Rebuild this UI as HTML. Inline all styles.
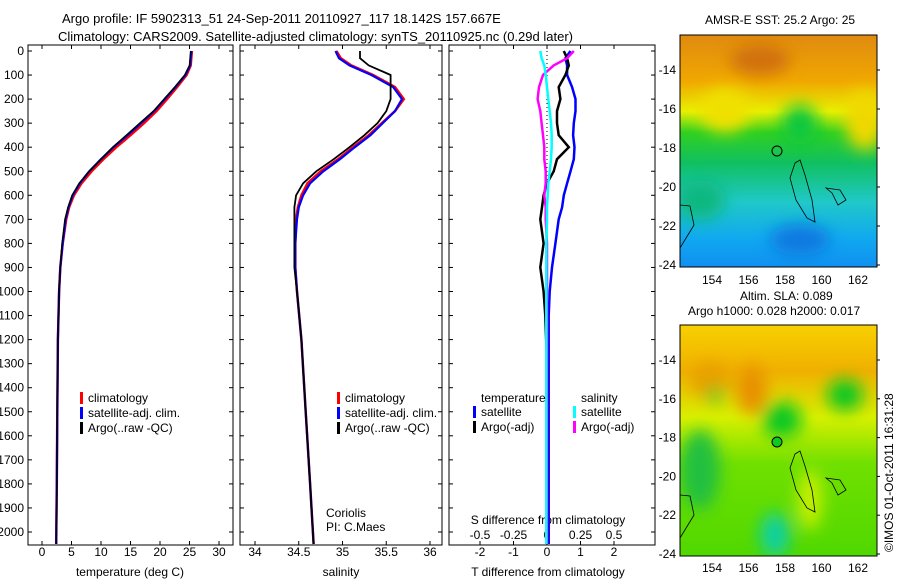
<!DOCTYPE html>
<html><head><meta charset="utf-8"><style>
body{margin:0;background:#fff;width:900px;height:580px;overflow:hidden}
svg text{font-family:"Liberation Sans",sans-serif;font-size:12px;fill:#000}
</style></head><body>
<svg id="c" width="900" height="580" xmlns="http://www.w3.org/2000/svg">
<defs>
<linearGradient id="g1" x1="0" y1="0" x2="0" y2="1">
<stop offset="0" stop-color="#e08a10"/><stop offset="0.2" stop-color="#f0a800"/><stop offset="0.33" stop-color="#e8f000"/><stop offset="0.42" stop-color="#30d020"/><stop offset="0.55" stop-color="#10c060"/><stop offset="0.72" stop-color="#20c8c8"/><stop offset="0.88" stop-color="#10a8f0"/><stop offset="1" stop-color="#1090f0"/>
</linearGradient>
<linearGradient id="g2" x1="0" y1="0" x2="0" y2="1">
<stop offset="0" stop-color="#f8d000"/><stop offset="0.2" stop-color="#f0b000"/><stop offset="0.4" stop-color="#d8f000"/><stop offset="0.6" stop-color="#70e000"/><stop offset="1" stop-color="#50d800"/>
</linearGradient>
<filter id="bl"><feGaussianBlur stdDeviation="8"/></filter>
<clipPath id="m1"><rect x="680" y="35" width="197" height="232"/></clipPath>
<clipPath id="m2"><rect x="680" y="325" width="197" height="231"/></clipPath>
</defs>
<text x="62" y="23" style="font-size:13px">Argo profile: IF 5902313_51 24-Sep-2011 20110927_117 18.142S 157.667E</text>
<text x="58" y="41" style="font-size:13px">Climatology: CARS2009. Satellite-adjusted climatology: synTS_20110925.nc (0.29d later)</text>
<g id="plots"></g>
<g>
<g clip-path="url(#m1)">
<rect x="680" y="35" width="197" height="232" fill="url(#g1)"/>
<g filter="url(#bl)">
<ellipse cx="725" cy="110" rx="25" ry="22" fill="#f0e000"/>
<ellipse cx="800" cy="125" rx="18" ry="20" fill="#10c840"/>
<ellipse cx="865" cy="120" rx="20" ry="30" fill="#f0d800"/>
<ellipse cx="760" cy="60" rx="30" ry="15" fill="#d07010"/>
<ellipse cx="800" cy="240" rx="30" ry="15" fill="#1078e0"/>
<ellipse cx="700" cy="200" rx="25" ry="20" fill="#10b880"/>
</g>
</g>
<rect x="680" y="35" width="197" height="232" fill="none" stroke="#000"/>
<circle cx="777" cy="151" r="5" fill="none" stroke="#000"/>
<path d="M795 163 L800 160 L805 175 L812 200 L815 222 L807 218 L796 200 L790 178 Z" fill="none" stroke="#000" stroke-width="0.8"/>
<path d="M680 205 L690 206 L694 225 L680 248" fill="none" stroke="#000" stroke-width="0.8"/>
<path d="M826 188 L840 190 L846 200 L838 205 L832 193 Z" fill="none" stroke="#000" stroke-width="0.8"/>
<text x="705" y="24">AMSR-E SST: 25.2 Argo: 25</text>
</g>
<g>
<g clip-path="url(#m2)">
<rect x="680" y="325" width="197" height="231" fill="url(#g2)"/>
<g filter="url(#bl)">
<ellipse cx="710" cy="380" rx="20" ry="18" fill="#e8a000"/>
<ellipse cx="752" cy="390" rx="15" ry="25" fill="#e89000"/>
<ellipse cx="715" cy="395" rx="8" ry="8" fill="#30d020"/>
<ellipse cx="782" cy="420" rx="20" ry="18" fill="#10c820"/>
<ellipse cx="845" cy="395" rx="18" ry="16" fill="#10c820"/>
<ellipse cx="700" cy="470" rx="20" ry="40" fill="#20c040"/>
<ellipse cx="775" cy="535" rx="15" ry="22" fill="#10d0a0"/>
<ellipse cx="810" cy="500" rx="12" ry="30" fill="#c8f000"/>
</g>
</g>
<rect x="680" y="325" width="197" height="231" fill="none" stroke="#000"/>
<circle cx="777" cy="442" r="5" fill="#10c820" stroke="#000"/>
<path d="M795 454 L800 451 L805 466 L812 490 L815 512 L807 508 L796 490 L790 468 Z" fill="none" stroke="#000" stroke-width="0.8"/>
<path d="M680 495 L690 496 L694 515 L680 538" fill="none" stroke="#000" stroke-width="0.8"/>
<path d="M826 478 L840 480 L846 490 L838 495 L832 483 Z" fill="none" stroke="#000" stroke-width="0.8"/>
<text x="740" y="300">Altim. SLA: 0.089</text>
<text x="688" y="315">Argo h1000: 0.028 h2000: 0.017</text>
</g>
<text transform="translate(893,552) rotate(-90)">©IMOS 01-Oct-2011 16:31:28</text>
</svg>
<script>
const NS="http://www.w3.org/2000/svg";
const depths=[0,30,60,100,150,200,250,300,350,400,450,500,550,600,650,700,800,900,1000,1200,1500,1800,2050];
const tempClim=[25.4,25.3,25.2,24.5,22.9,21.2,19.4,17.3,15,12.6,10.4,8.4,6.7,5.4,4.6,4.1,3.5,3.1,2.9,2.7,2.6,2.5,2.4];
const tempSat=[25.3,25.2,25.1,24.3,22.6,20.8,19,16.8,14.5,12.1,10,8,6.4,5.2,4.5,4,3.5,3.1,2.9,2.7,2.6,2.5,2.4];
const tempArgo=[25.2,25.1,25,24.2,22.5,20.7,18.9,16.6,14.3,12,10,8,6.3,5.1,4.4,3.9,3.4,3.1,2.9,2.7,2.6,2.5,2.4];
const salClim=[34.93,34.98,35.1,35.35,35.6,35.7,35.6,35.45,35.3,35.12,34.95,34.75,34.6,34.53,34.49,34.47,34.46,34.46,34.48,34.53,34.58,34.63,34.67];
const salSat=[34.92,34.96,35.08,35.33,35.58,35.68,35.6,35.46,35.32,35.14,34.97,34.78,34.63,34.55,34.5,34.48,34.46,34.46,34.48,34.53,34.58,34.63,34.67];
const salArgo=[35.2,35.2,35.3,35.55,35.55,35.55,35.5,35.4,35.25,35.08,34.9,34.7,34.55,34.47,34.45,34.45,34.45,34.45,34.48,34.53,34.58,34.63,34.67];
const dDepths=[0,30,60,100,150,200,250,300,350,400,450,500,550,600,650,700,800,900,1000,1100,1300,2050];
const dTSat=[0.7,0.55,0.6,0.6,0.75,0.85,0.85,0.8,0.78,0.82,0.8,0.7,0.6,0.5,0.45,0.35,0.25,0.15,0.08,0.05,0.05,0.05];
const dTArgo=[0.5,0.6,0.65,0.55,0.35,0.4,0.3,0.3,0.35,0.65,0.3,0.2,0,-0.1,-0.15,-0.2,-0.1,-0.2,-0.1,-0.05,0,0];
const dSSat=[-0.05,-0.04,-0.02,-0.01,0,0.01,0.02,0.03,0.035,0.035,0.03,0.02,0.01,0.005,0,0,-0.005,-0.005,-0.005,-0.005,-0.005,-0.005];
const dSArgo=[0.2,0.15,0.05,-0.03,-0.06,-0.07,-0.05,-0.04,-0.03,-0.02,-0.02,-0.01,-0.01,-0.02,-0.01,-0.01,0,0,0,0,0,0];
const depthTicks=[0,100,200,300,400,500,600,700,800,900,1000,1100,1200,1300,1400,1500,1600,1700,1800,1900,2000];
const tTicks=[0,5,10,15,20,25,30];
const sTicks=[34,34.5,35,35.5,36];
const dTTicks=[-2,-1,0,1,2];
const dSTicks=[-0.5,-0.25,0,0.25,0.5];
const TOP=45,BOT=545;
const yD=d=>51+d*0.2405;
const xT=t=>42+t*5.9;
const xS=s=>255+(s-34)*87.5;
const xDT=v=>547+v*33.5;
const xDS=v=>547+v*134;
const g=document.getElementById('plots');
function el(t,a,p){const e=document.createElementNS(NS,t);for(const k in a)e.setAttribute(k,a[k]);(p||g).appendChild(e);return e;}
function panel(x0,x1,name){
  const r=el('rect',{x:x0,y:TOP,width:x1-x0,height:BOT-TOP,fill:'none',stroke:'#000'});
  
  
  depthTicks.forEach(d=>{el('line',{x1:x0,x2:x0+4,y1:yD(d),y2:yD(d),stroke:'#000'});el('line',{x1:x1,x2:x1-4,y1:yD(d),y2:yD(d),stroke:'#000'});});
}
function line(xs,f,ds,col,w,name){
  const pts=xs.map((v,i)=>f(v).toFixed(1)+','+yD(ds[i]).toFixed(1)).join(' ');
  const p=el('polyline',{points:pts,fill:'none',stroke:col,'stroke-width':w});
  
  
}
function txt(x,y,s,anchor,name){const t=el('text',{x:x,y:y,'text-anchor':anchor||'start'});t.textContent=s;
  
  
  return t;}
panel(28,233,'temperature-panel');panel(240,442,'salinity-panel');panel(449,655,'difference-panel');
depthTicks.forEach(d=>txt(24,yD(d)+4,String(d),'end','depth-tick-label'));
tTicks.forEach(t=>{el('line',{x1:xT(t),x2:xT(t),y1:BOT,y2:BOT-4,stroke:'#000'});el('line',{x1:xT(t),x2:xT(t),y1:TOP,y2:TOP+4,stroke:'#000'});txt(xT(t),556,String(t),'middle','temp-tick-label');});
sTicks.forEach(s=>{el('line',{x1:xS(s),x2:xS(s),y1:BOT,y2:BOT-4,stroke:'#000'});el('line',{x1:xS(s),x2:xS(s),y1:TOP,y2:TOP+4,stroke:'#000'});txt(xS(s),556,String(s),'middle','sal-tick-label');});
dTTicks.forEach(s=>{el('line',{x1:xDT(s),x2:xDT(s),y1:BOT,y2:BOT-4,stroke:'#000'});el('line',{x1:xDT(s),x2:xDT(s),y1:TOP,y2:TOP+4,stroke:'#000'});txt(xDT(s),556,String(s),'middle','dt-tick-label');});
dSTicks.forEach(s=>{el('line',{x1:xDS(s),x2:xDS(s),y1:BOT,y2:BOT-4,stroke:'#000'});txt(xDS(s),539,String(s),'middle','ds-tick-label');});
txt(130,576,'temperature (deg C)','middle','x-axis-title-temp');
txt(341,576,'salinity','middle','x-axis-title-sal');
txt(548,576,'T difference from climatology','middle','x-axis-title-dt');
txt(548,524,'S difference from climatology','middle','x-axis-title-ds');
el('line',{x1:547,x2:547,y1:yD(0),y2:yD(700),stroke:'#000','stroke-dasharray':'1,3'});
line(tempClim,xT,depths,'#f00',2.5,'temp-climatology-line');
line(tempSat,xT,depths,'#00f',2.2,'temp-satellite-line');
line(tempArgo,xT,depths,'#000',1.5,'temp-argo-line');
line(salClim,xS,depths,'#f00',2.5,'sal-climatology-line');
line(salSat,xS,depths,'#00f',2.2,'sal-satellite-line');
line(salArgo,xS,depths,'#000',1.8,'sal-argo-line');
line(dTSat,xDT,dDepths,'#00f',2.5,'dt-satellite-line');
line(dTArgo,xDT,dDepths,'#000',2.5,'dt-argo-line');
line(dSArgo,xDS,dDepths,'#f0f',2.5,'ds-argo-line');
line(dSSat,xDS,dDepths,'#0ff',2.5,'ds-satellite-line');
function leg(x,y,col,s,name){el('rect',{x:x,y:y-10,width:3,height:12,fill:col});txt(x+8,y,s,'start',name);}
[[80,'#f00','climatology'],[80,'#00f','satellite-adj. clim.'],[80,'#000','Argo(..raw -QC)']].forEach((a,i)=>{leg(a[0],402+i*15,a[1],a[2],'temp-legend-entry');leg(a[0]+257,402+i*15,a[1],a[2],'sal-legend-entry');});
txt(481,402,'temperature','start','dt-legend-title');leg(473,416,'#00f','satellite','dt-legend-entry');leg(473,431,'#000','Argo(-adj)','dt-legend-entry');
txt(581,402,'salinity','start','ds-legend-title');leg(573,416,'#0ff','satellite','ds-legend-entry');leg(573,431,'#f0f','Argo(-adj)','ds-legend-entry');
txt(326,517,'Coriolis','start','data-centre-label');txt(326,531,'PI: C.Maes','start','pi-label');
const lonTicks=[154,156,158,160,162];
const latTicks=[-14,-16,-18,-20,-22,-24];
const xLon=l=>712+(l-154)*18.25;
const yLat1=l=>70+(-14-l)*19.5;
const yLat2=l=>360+(-14-l)*19.4;
lonTicks.forEach(l=>{[[267,35],[556,325]].forEach(b=>{el('line',{x1:xLon(l),x2:xLon(l),y1:b[0],y2:b[0]-3,stroke:'#000'});el('line',{x1:xLon(l),x2:xLon(l),y1:b[1],y2:b[1]+3,stroke:'#000'});});
 txt(xLon(l),284,String(l),'middle','lon-tick-label');txt(xLon(l),572,String(l),'middle','lon-tick-label');});
latTicks.forEach(l=>{txt(676,yLat1(l)+4,String(l),'end','lat-tick-label');txt(676,yLat2(l)+4,String(l),'end','lat-tick-label');
 el('line',{x1:877,x2:880,y1:yLat1(l),y2:yLat1(l),stroke:'#000'});el('line',{x1:877,x2:880,y1:yLat2(l),y2:yLat2(l),stroke:'#000'});});
</script>
</body></html>
